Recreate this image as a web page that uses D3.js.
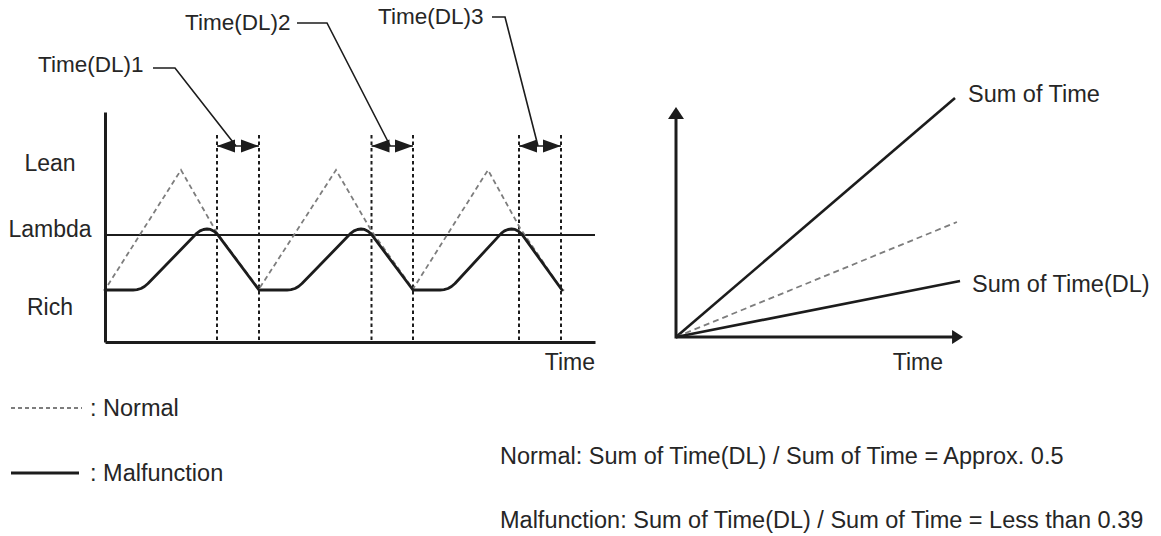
<!DOCTYPE html>
<html><head><meta charset="utf-8">
<script src="https://cdn.jsdelivr.net/npm/d3@7"></script>
<style>
html,body{margin:0;padding:0;background:#fff;}
svg{display:block;font-family:"Liberation Sans",Arial,Helvetica,sans-serif;}
</style></head><body>
<svg id="chart" width="1161" height="536"></svg>
<script>
// ---------------- data ----------------
// signal level axis (arbitrary units, 0 = bottom of chart)
const levelLabels = ["Lean", "Lambda", "Rich"];
const levelValues = [179, 113, 35.5];
const lambdaLevel = 107;

// malfunction air-fuel signal (time, level)
const malfunctionT = [0, 28, 32, 36, 39.5, 43, 92, 95, 98.5, 102, 105.5, 109, 112.5, 154,
                      182, 186, 190, 193.5, 197, 246, 249, 252.5, 256, 259.5, 263, 266.5, 308,
                      335, 339, 343, 346.5, 350, 396.5, 399.5, 403, 406.5, 410, 413.5, 417, 457];
const malfunctionV = [52, 52, 52.4, 53.5, 55.5, 58.5, 108.9, 111.1, 112.5, 113, 112.6, 110.8, 107.6, 52,
                      52, 52.4, 53.5, 55.5, 58.5, 108.9, 111.1, 112.5, 113, 112.6, 110.8, 107.6, 52,
                      52, 52.4, 53.5, 55.5, 58.5, 108.9, 111.1, 112.5, 113, 112.6, 110.8, 107.6, 52];

// normal air-fuel signal (time, level)
const normalT = [3, 76, 112, 154, 231, 266.5, 308, 383, 415, 457, 462];
const normalV = [57, 172, 109, 53, 172, 111, 53, 172, 114, 52, 51];

// Time(DL) intervals
const dlLabels = ["Time(DL)1", "Time(DL)2", "Time(DL)3"];
const dlStart = [112, 266.5, 414];
const dlEnd = [154, 308, 456];

// right chart: cumulative sums
const sumNames = ["Sum of Time", "Normal Sum of Time(DL)", "Sum of Time(DL)"];
const sumEndTime = [10, 10.07, 10.18];
const sumEndValue = [10, 4.81, 2.34];

const legendLabels = [": Normal", ": Malfunction"];
const ratioTexts = ["Normal: Sum of Time(DL) / Sum of Time = Approx. 0.5",
                    "Malfunction: Sum of Time(DL) / Sum of Time = Less than 0.39"];

// ---------------- drawing ----------------
const svg = d3.select("#chart");
const INK = "#1c1c1c", TXT = "#262626", GREY = "#7d7d7d";
const FS = 23;

const x = d3.scaleLinear().domain([0, 490]).range([105, 595]);
const y = d3.scaleLinear().domain([0, 230]).range([342, 112]);

const left = svg.append("g");

// vertical dashed lines
const vx = dlStart.concat(dlEnd);
left.selectAll("line.v").data(vx).join("line")
  .attr("x1", d => x(d)).attr("x2", d => x(d))
  .attr("y1", y(207)).attr("y2", y(0))
  .attr("stroke", INK).attr("stroke-width", 2).attr("stroke-dasharray", "3.5,3");

// lambda line
left.append("line")
  .attr("x1", x(0)).attr("x2", x(490))
  .attr("y1", y(lambdaLevel)).attr("y2", y(lambdaLevel))
  .attr("stroke", INK).attr("stroke-width", 2.2);

// normal curve
const normalPts = normalT.map((t, i) => [t, normalV[i]]);
left.append("path")
  .attr("d", d3.line().x(d => x(d[0])).y(d => y(d[1]))(normalPts))
  .attr("fill", "none").attr("stroke", GREY).attr("stroke-width", 1.8)
  .attr("stroke-dasharray", "5,3.5");

// malfunction curve
const malPts = malfunctionT.map((t, i) => [t, malfunctionV[i]]);
left.append("path")
  .attr("d", d3.line().x(d => x(d[0])).y(d => y(d[1]))(malPts))
  .attr("fill", "none").attr("stroke", INK).attr("stroke-width", 2.8)
  .attr("stroke-linejoin", "round").attr("stroke-linecap", "round");

// axes
const xAxis = d3.axisBottom(x).tickValues([]).tickSizeOuter(0);
const yAxis = d3.axisLeft(y).tickValues([]).tickSizeOuter(0);
left.append("g").attr("transform", `translate(0,${y(0)})`).call(xAxis)
  .select(".domain").attr("stroke", INK).attr("stroke-width", 3);
left.append("g").attr("transform", `translate(${x(0)},0)`).call(yAxis)
  .select(".domain").attr("stroke", INK).attr("stroke-width", 3);

// level labels
left.selectAll("text.lvl").data(levelLabels).join("text")
  .attr("x", 50).attr("y", (d, i) => y(levelValues[i]))
  .attr("dy", "0.35em").attr("text-anchor", "middle")
  .attr("font-size", FS).attr("fill", TXT).text(d => d);

left.append("text").attr("x", 595).attr("y", 370).attr("text-anchor", "end")
  .attr("font-size", FS).attr("fill", TXT).text("Time");

// double arrows
const ay = y(196);
dlStart.forEach((s, i) => {
  const x1 = x(s), x2 = x(dlEnd[i]);
  left.append("line").attr("x1", x1).attr("x2", x2).attr("y1", ay).attr("y2", ay)
    .attr("stroke", INK).attr("stroke-width", 1.5);
  left.append("path").attr("d", `M${x1},${ay}L${x1 + 18},${ay - 6.5}L${x1 + 18},${ay + 6.5}Z`).attr("fill", INK);
  left.append("path").attr("d", `M${x2},${ay}L${x2 - 18},${ay - 6.5}L${x2 - 18},${ay + 6.5}Z`).attr("fill", INK);
});

// labels with leader lines
const dlLayout = [
  {tx: 38, ty: 72, h1: 153, h2: 175, hy: 68},
  {tx: 185, ty: 30, h1: 297, h2: 327, hy: 23},
  {tx: 378, ty: 24, h1: 492, h2: 505, hy: 17}
];
dlLabels.forEach((lab, i) => {
  const L = dlLayout[i];
  const mx = x((dlStart[i] + dlEnd[i]) / 2) - 2;
  left.append("text").attr("x", L.tx).attr("y", L.ty)
    .attr("font-size", 22.5).attr("fill", TXT).text(lab);
  left.append("path").attr("d", `M${L.h1},${L.hy}L${L.h2},${L.hy}L${mx},${ay}`)
    .attr("fill", "none").attr("stroke", INK).attr("stroke-width", 1.6);
});

// ---------------- right chart ----------------
const xr = d3.scaleLinear().domain([0, 10]).range([676, 955]);
const yr = d3.scaleLinear().domain([0, 10]).range([337, 98]);
const right = svg.append("g");

sumNames.forEach((n, i) => {
  right.append("line")
    .attr("x1", xr(0)).attr("y1", yr(0))
    .attr("x2", xr(sumEndTime[i])).attr("y2", yr(sumEndValue[i]))
    .attr("stroke", i === 1 ? GREY : INK)
    .attr("stroke-width", i === 1 ? 1.8 : 2.6)
    .attr("stroke-dasharray", i === 1 ? "6,4" : null);
});

const xTip = xr(10.29), yTip = yr(9.62);
right.append("line").attr("x1", xr(0)).attr("x2", xTip - 8).attr("y1", yr(0)).attr("y2", yr(0))
  .attr("stroke", INK).attr("stroke-width", 3);
right.append("line").attr("x1", xr(0)).attr("x2", xr(0)).attr("y1", yr(0) + 1.5).attr("y2", yTip + 8)
  .attr("stroke", INK).attr("stroke-width", 3);
right.append("path").attr("d", `M${xTip},${yr(0)}L${xTip - 11},${yr(0) - 7}L${xTip - 11},${yr(0) + 7}Z`).attr("fill", INK);
right.append("path").attr("d", `M${xr(0)},${yTip}L${xr(0) - 8},${yTip + 12}L${xr(0) + 8},${yTip + 12}Z`).attr("fill", INK);

right.append("text").attr("x", 968).attr("y", 102).attr("font-size", 23.5).attr("fill", TXT).text(sumNames[0]);
right.append("text").attr("x", 972).attr("y", 292).attr("font-size", 23.5).attr("fill", TXT).text(sumNames[2]);
right.append("text").attr("x", 943).attr("y", 370).attr("text-anchor", "end").attr("font-size", FS).attr("fill", TXT).text("Time");

// ---------------- legend & notes ----------------
const lg = svg.append("g");
lg.append("line").attr("x1", 11).attr("x2", 82).attr("y1", 408).attr("y2", 408)
  .attr("stroke", GREY).attr("stroke-width", 1.8).attr("stroke-dasharray", "4,3");
lg.append("line").attr("x1", 11).attr("x2", 79).attr("y1", 473).attr("y2", 473)
  .attr("stroke", INK).attr("stroke-width", 3);
lg.selectAll("text.lg").data(legendLabels).join("text")
  .attr("x", 90).attr("y", (d, i) => [416, 481][i])
  .attr("font-size", 23.5).attr("fill", TXT).text(d => d);

svg.selectAll("text.note").data(ratioTexts).join("text")
  .attr("x", 500).attr("y", (d, i) => [464, 528][i])
  .attr("font-size", 23.5).attr("fill", TXT).text(d => d);
</script>
</body></html>
